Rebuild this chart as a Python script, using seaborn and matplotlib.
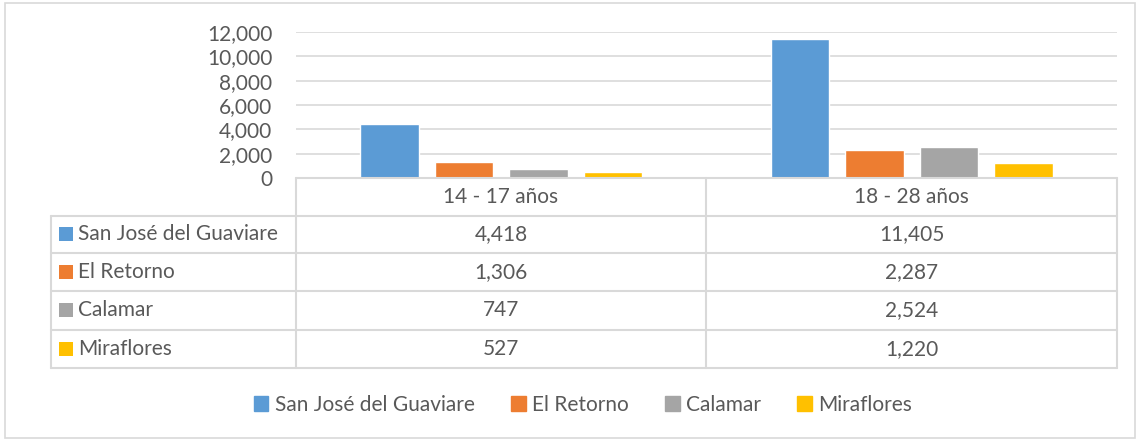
import matplotlib
matplotlib.use("Agg")
import matplotlib.pyplot as plt
import matplotlib.patches as mpatches
import seaborn as sns
import pandas as pd

grupos = ["14 - 17 años", "18 - 28 años"]
municipios = ["San José del Guaviare", "El Retorno", "Calamar", "Miraflores"]
san_jose = [4418, 11405]
el_retorno = [1306, 2287]
calamar = [747, 2524]
miraflores = [527, 1220]
colores = ["#5B9BD5", "#ED7D31", "#A5A5A5", "#FFC000"]
yticks = [0, 2000, 4000, 6000, 8000, 10000, 12000]

series = [san_jose, el_retorno, calamar, miraflores]
rows = []
for m, vals in zip(municipios, series):
    for g, v in zip(grupos, vals):
        rows.append({"grupo": g, "municipio": m, "valor": v})
df = pd.DataFrame(rows)

sns.set_theme(style="white")
plt.rcParams["font.family"] = ["Lato", "DejaVu Sans"]
TXT = "#595959"
GRID = "#D9D9D9"
FS = 15

W, H = 1137, 441
fig = plt.figure(figsize=(W / 100, H / 100), dpi=100)

def px(x0, y0, x1, y1):
    return [x0 / W, 1 - y1 / H, (x1 - x0) / W, (y1 - y0) / H]

ax = fig.add_axes(px(296, 32, 1117, 178))
sns.barplot(data=df, x="grupo", y="valor", hue="municipio", order=grupos,
            hue_order=municipios, palette=colores, width=0.725, gap=0.215,
            saturation=1, legend=False, ax=ax, zorder=3)
ax.set_ylim(0, 12000)
ax.set_xlim(-0.5, 1.5)
ax.set_yticks(yticks)
ax.set_yticklabels([f"{v:,}" for v in yticks], color=TXT, fontsize=FS)
ax.tick_params(axis="y", length=0, pad=17)
ax.set_xticks([])
ax.set_xlabel("")
ax.set_ylabel("")
for s in ax.spines.values():
    s.set_visible(False)
ax.yaxis.grid(True, color=GRID, lw=1.2, zorder=0)
ax.set_axisbelow(True)
ax.patch.set_alpha(0)

# overlay in pixel coordinates for table, legend and border
ov = fig.add_axes([0, 0, 1, 1])
ov.set_xlim(0, W)
ov.set_ylim(H, 0)
ov.axis("off")
ov.patch.set_alpha(0)

ov.add_patch(mpatches.Rectangle((5, 3), 1130, 435, fill=False, ec=GRID, lw=1.2))

row_y = [178, 215.5, 253, 291, 329.5, 368]
col_x = [51, 296, 706, 1117]
lc = GRID
lw = 1.5
ov.plot([296, 1117], [row_y[0]] * 2, color=lc, lw=lw)
for y in row_y[1:]:
    ov.plot([51, 1117], [y, y], color=lc, lw=lw)
ov.plot([51, 51], [row_y[1], row_y[-1]], color=lc, lw=lw)
for x in col_x[1:]:
    ov.plot([x, x], [row_y[0], row_y[-1]], color=lc, lw=lw)

for i, g in enumerate(grupos):
    cx = (col_x[i + 1] + col_x[i + 2]) / 2
    ov.text(cx, (row_y[0] + row_y[1]) / 2, g, ha="center", va="center",
            color=TXT, fontsize=FS)

for r, (m, vals, c) in enumerate(zip(municipios, series, colores)):
    yc = (row_y[r + 1] + row_y[r + 2]) / 2
    ov.add_patch(mpatches.Rectangle((59, yc - 7), 14, 14, color=c, lw=0))
    ov.text(78, yc, m, ha="left", va="center", color=TXT, fontsize=FS)
    for i, v in enumerate(vals):
        cx = (col_x[i + 1] + col_x[i + 2]) / 2
        ov.text(cx, yc, f"{v:,}", ha="center", va="center", color=TXT, fontsize=FS)

handles = [mpatches.Patch(color=c, label=m) for m, c in zip(municipios, colores)]
leg = fig.legend(handles=handles, loc="center", bbox_to_anchor=(583 / W, 1 - 405 / H),
                 ncol=4, frameon=False, fontsize=FS, handlelength=0.7, handleheight=0.7,
                 handletextpad=0.3, columnspacing=1.75, labelcolor=TXT)

fig.savefig("out.png", dpi=100)
